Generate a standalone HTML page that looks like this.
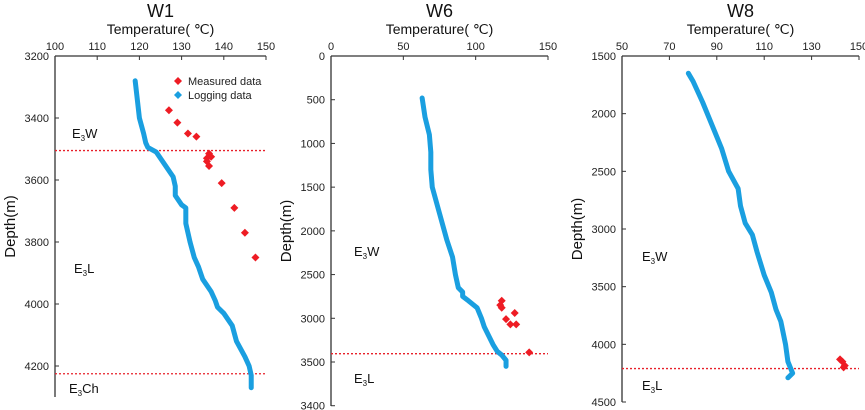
<!DOCTYPE html>
<html><head><meta charset="utf-8"><style>
body{margin:0;background:#fff;}
svg{display:block;font-family:"Liberation Sans",Arial,sans-serif;}
</style></head><body>
<svg id="chart" width="865" height="410"></svg>
<script>
// W1 data
const w1LogT=[119,119.5,120,121,121.5,122,124,126,128,128.5,128.5,130,131,131,132,133,134,135,137,138,138.5,140,142,143,145,146,146.5,146.5];
const w1LogD=[3280,3340,3400,3450,3480,3495,3510,3550,3590,3620,3650,3680,3690,3740,3800,3850,3880,3920,3960,3990,4010,4030,4070,4120,4170,4200,4230,4270];
const w1MeasT=[127,129,131.5,133.5,136.5,137,136,136.5,136,139.5,142.5,145,147.5];
const w1MeasD=[3375,3415,3450,3460,3515,3525,3530,3555,3540,3610,3690,3770,3850];
const w1XTicks=[100,110,120,130,140,150];
const w1YTicks=[3200,3400,3600,3800,4000,4200];
// W6 data
const w6LogT=[63,65,68,69,69,70,75,80,84,86,88,91,91,95,101,104,106,109,112,115,118,121,121];
const w6LogD=[480,700,900,1100,1300,1500,1800,2100,2300,2500,2650,2700,2750,2800,2880,3000,3100,3200,3300,3380,3420,3480,3550];
const w6MeasT=[118,117,118,127,121,124,128,137];
const w6MeasD=[2800,2850,2880,2940,3010,3070,3070,3390];
const w6XTicks=[0,50,100,150];
const w6YTicks=[0,500,1000,1500,2000,2500,3000,3500,4000];
const w6YTickLabels=["0","500","1000","1500","2000","2500","3000","3500","3400"];
// W8 data
const w8LogT=[78,80,84,88,92,95,99,100,102,105,107,110,113,115,117,119,120,122,120];
const w8LogD=[1650,1720,1900,2100,2300,2500,2650,2800,2950,3050,3200,3400,3550,3700,3800,4000,4150,4250,4290];
const w8MeasT=[142,143,143.5,144];
const w8MeasD=[4130,4150,4200,4185];
const w8XTicks=[50,70,90,110,130,150];
const w8YTicks=[1500,2000,2500,3000,3500,4000,4500];

const NS="http://www.w3.org/2000/svg";
const svg=document.getElementById('chart');
function mk(tag,attrs,parent,text){const e=document.createElementNS(NS,tag);for(const k in attrs)e.setAttribute(k,attrs[k]);if(text!==undefined)e.textContent=text;(parent||svg).appendChild(e);return e;}

function panel(p){
  const g=mk('g',{});
  
  
  const sx=v=>p.x0+(v-p.xmin)/(p.xmax-p.xmin)*(p.x1-p.x0);
  const sy=v=>p.y0+(v-p.ymin)/(p.ymax-p.ymin)*(p.y1-p.y0);
  const cx=(p.x0+p.x1)/2;
  const t=mk('text',{x:cx,y:17,'text-anchor':'middle','font-size':18,fill:'#111'},g,p.name);
  
  const xt=mk('text',{x:cx,y:34,'text-anchor':'middle','font-size':14,fill:'#111'},g,'Temperature( ℃)');
  
  const yt=mk('text',{x:0,y:0,'text-anchor':'middle','font-size':15,fill:'#111',transform:`translate(${p.x0-40},${(p.y0+p.yEnd)/2}) rotate(-90)`},g,'Depth(m)');
  
  const ax=mk('path',{d:`M${p.x0},${p.y0}H${p.x1}M${p.x0},${p.y0}V${p.yEnd}`,stroke:'#333','stroke-width':1.3,fill:'none'},g);
  
  p.xt.forEach(v=>{const x=sx(v);mk('line',{x1:x,x2:x,y1:p.y0,y2:p.y0+4,stroke:'#333'},g);
    const l=mk('text',{x:x,y:p.y0-6,'text-anchor':'middle','font-size':11,fill:'#222'},g,String(v));
    });
  p.yt.forEach((v,i)=>{const y=sy(v);mk('line',{x1:p.x0,x2:p.x0+4,y1:y,y2:y,stroke:'#333'},g);
    const l=mk('text',{x:p.x0-6,y:y+4,'text-anchor':'end','font-size':11,fill:'#222'},g,p.ytl?p.ytl[i]:String(v));
    });
  p.bounds.forEach(b=>{const y=sy(b);const l=mk('line',{x1:p.x0,x2:p.x1,y1:y,y2:y,stroke:'#e8202a','stroke-width':1.3,'stroke-dasharray':'2,2'},g);
    });
  const pts=p.lt.map((v,i)=>sx(v)+','+sy(p.ld[i])).join(' ');
  const pl=mk('polyline',{points:pts,fill:'none',stroke:'#1a9fe0','stroke-width':5,'stroke-linejoin':'round','stroke-linecap':'round'},g);
  
  p.mt.forEach((v,i)=>{const x=sx(v),y=sy(p.md[i]);
    const d=mk('polygon',{points:`${x},${y-4} ${x+4},${y} ${x},${y+4} ${x-4},${y}`,fill:'#ee1c24'},g);
    });
  p.labels.forEach(L=>{const tx=mk('text',{x:L[0],y:L[1],'font-size':13,fill:'#111'},g);
    
    mk('tspan',{},tx,'E');mk('tspan',{'font-size':8,dy:3},tx,'3');mk('tspan',{dy:-3},tx,L[2]);});
  return g;
}
panel({name:'W1',x0:55,x1:266,y0:56,y1:366,yEnd:397,xmin:100,xmax:150,ymin:3200,ymax:4200,xt:w1XTicks,yt:w1YTicks,
  lt:w1LogT,ld:w1LogD,mt:w1MeasT,md:w1MeasD,bounds:[3505,4225],labels:[[72,138,'W'],[74,273,'L'],[69,393,'Ch']]});
panel({name:'W6',x0:331,x1:548,y0:56,y1:362,yEnd:406,xmin:0,xmax:150,ymin:0,ymax:3500,xt:w6XTicks,yt:w6YTicks,ytl:w6YTickLabels,
  lt:w6LogT,ld:w6LogD,mt:w6MeasT,md:w6MeasD,bounds:[3405],labels:[[354,256,'W'],[354,383,'L']]});
panel({name:'W8',x0:622,x1:859,y0:56,y1:402,yEnd:402,xmin:50,xmax:150,ymin:1500,ymax:4500,xt:w8XTicks,yt:w8YTicks,
  lt:w8LogT,ld:w8LogD,mt:w8MeasT,md:w8MeasD,bounds:[4210],labels:[[642,261,'W'],[642,390,'L']]});
// legend
const lg=mk('g',{});


mk('polygon',{points:'178,77 182,81 178,85 174,81',fill:'#ee1c24'},lg);
mk('text',{x:188,y:85,'font-size':11,fill:'#222'},lg,'Measured data');
mk('polygon',{points:'178,91 182,95 178,99 174,95',fill:'#1a9fe0'},lg);
mk('text',{x:188,y:99,'font-size':11,fill:'#222'},lg,'Logging data');
</script>
</body></html>
